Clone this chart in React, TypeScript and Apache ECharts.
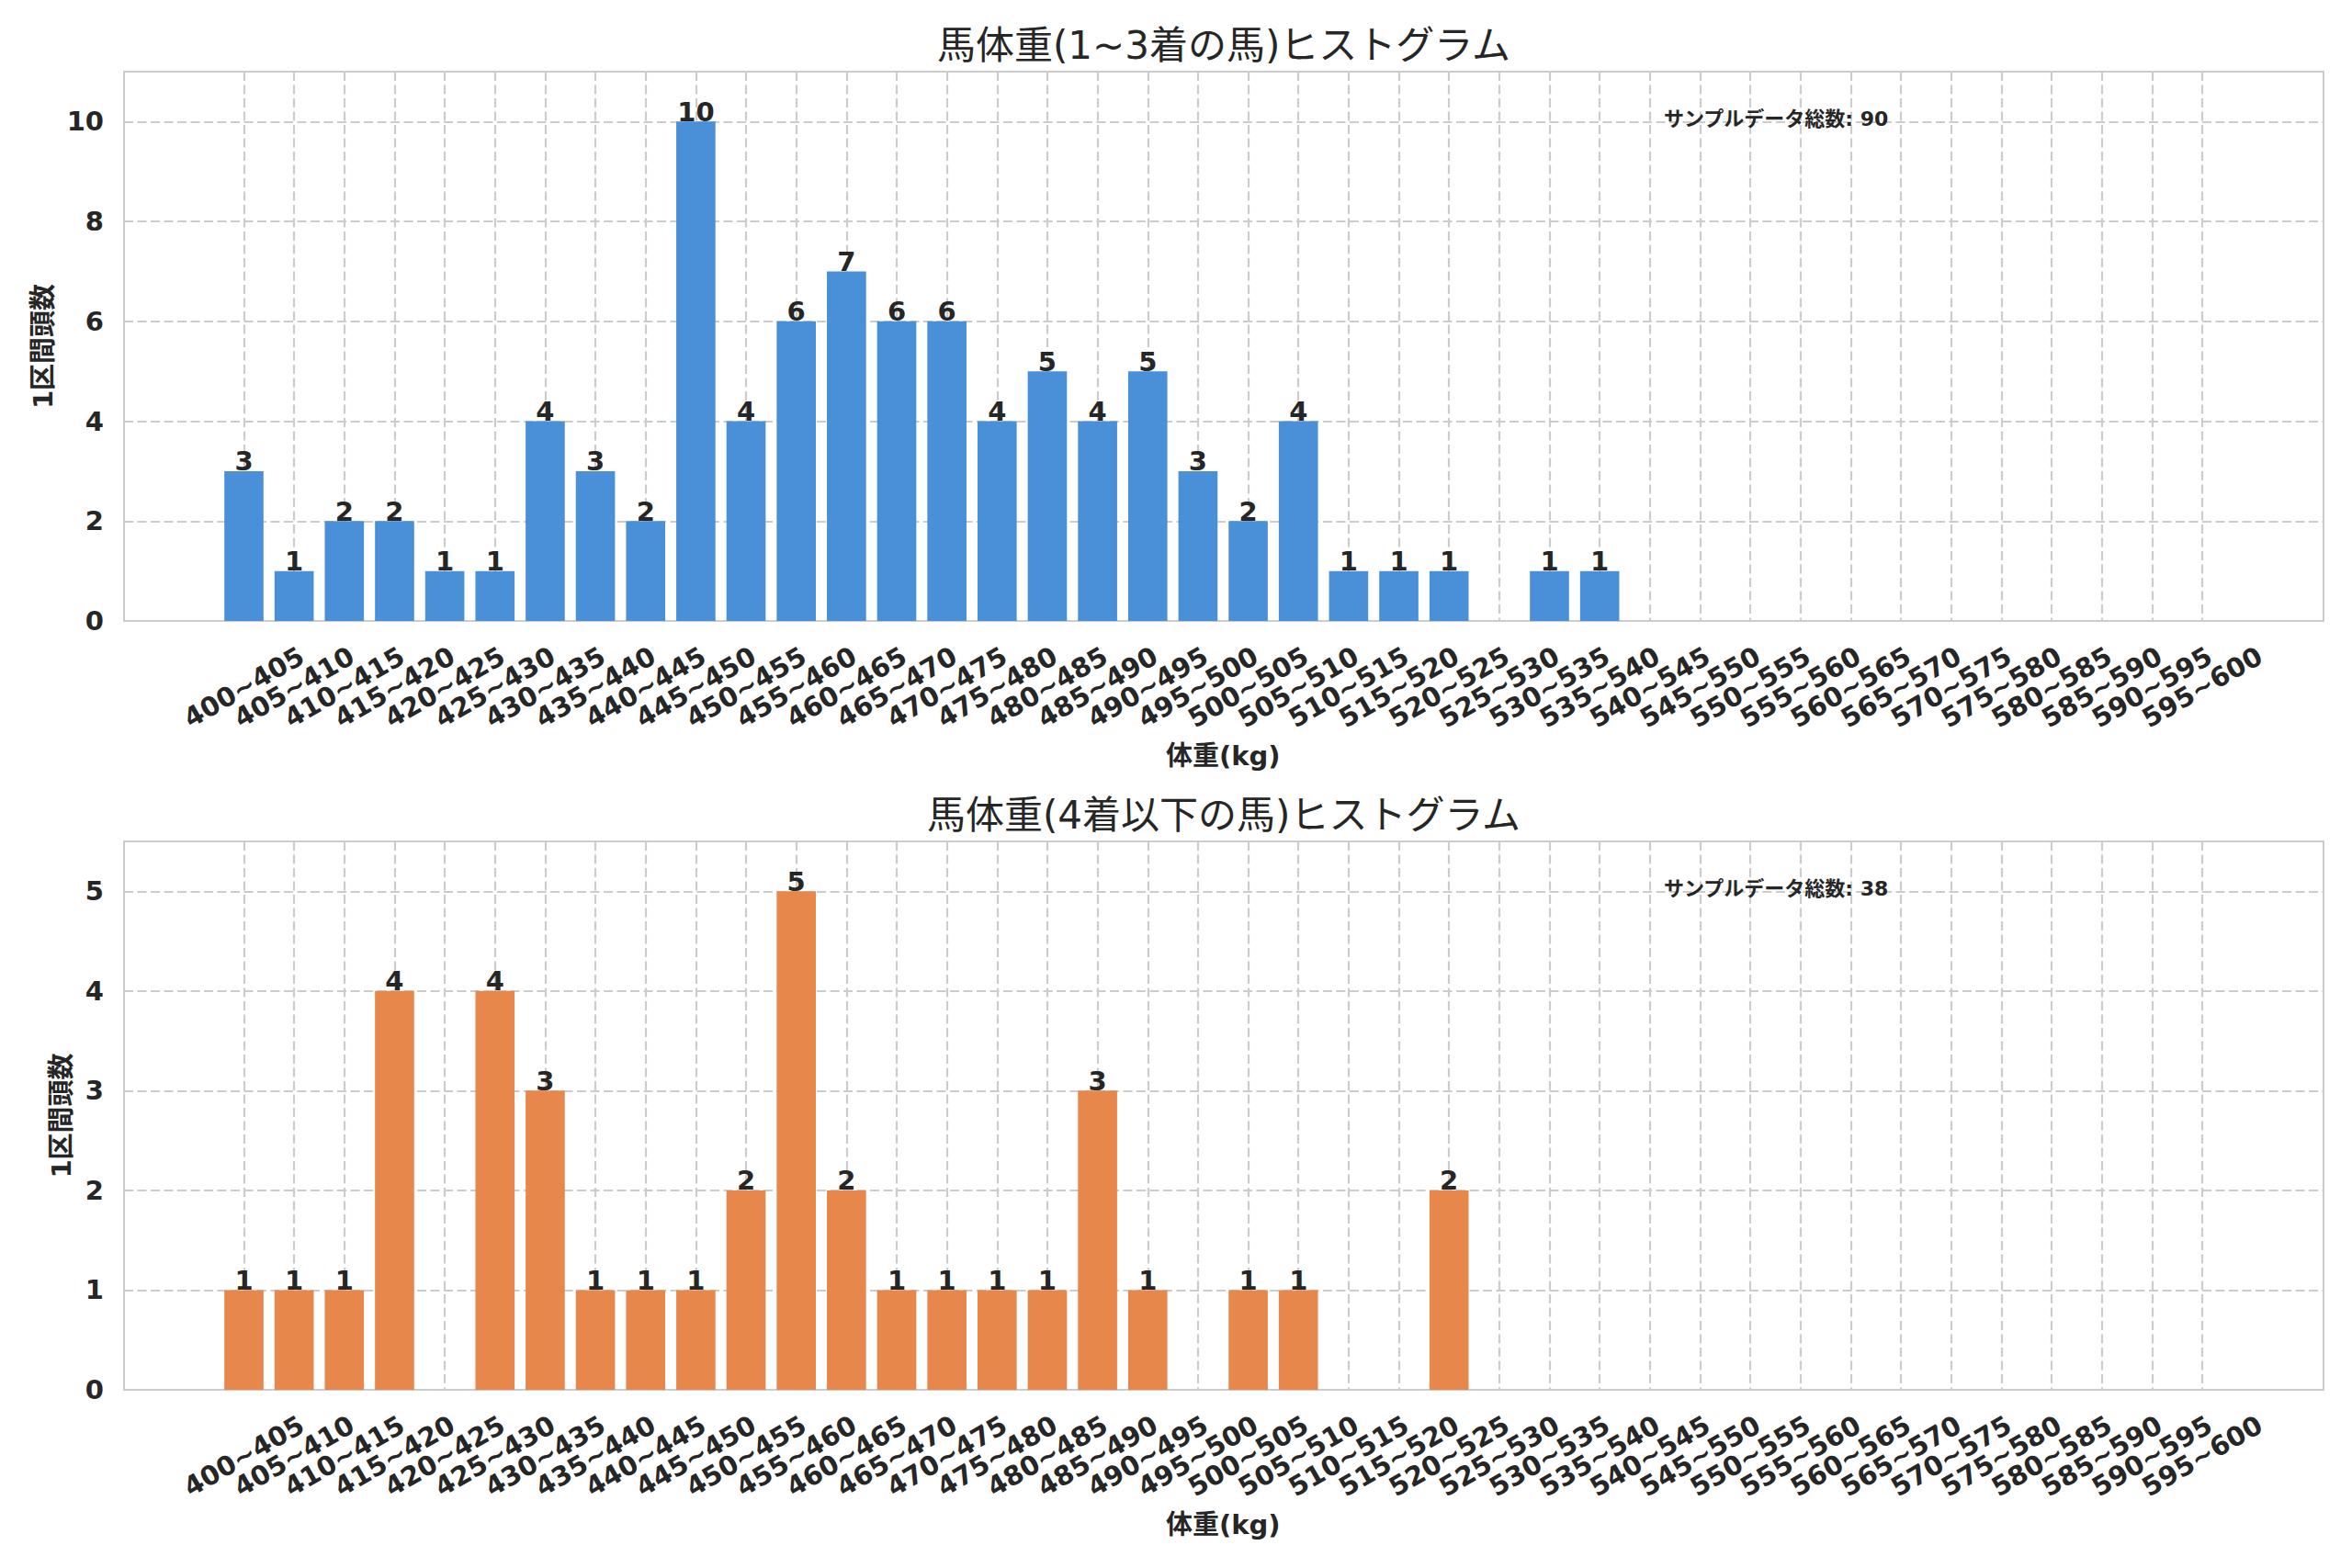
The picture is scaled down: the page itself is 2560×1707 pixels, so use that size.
import React, { useEffect, useRef } from "react";
import * as echarts from "echarts";

const categories = [
  "400~405", "405~410", "410~415", "415~420", "420~425", "425~430", "430~435", "435~440",
  "440~445", "445~450", "450~455", "455~460", "460~465", "465~470", "470~475", "475~480",
  "480~485", "485~490", "490~495", "495~500", "500~505", "505~510", "510~515", "515~520",
  "520~525", "525~530", "530~535", "535~540", "540~545", "545~550", "550~555", "555~560",
  "560~565", "565~570", "570~575", "575~580", "580~585", "585~590", "590~595", "595~600",
];

const topCounts = [
  3, 1, 2, 2, 1, 1, 4, 3, 2, 10, 4, 6, 7, 6, 6, 4, 5, 4, 5, 3, 2, 4, 1, 1, 1, 0, 1, 1,
  0, 0, 0, 0, 0, 0, 0, 0, 0, 0, 0, 0,
];

const lowerCounts = [
  1, 1, 1, 4, 0, 4, 3, 1, 1, 1, 2, 5, 2, 1, 1, 1, 1, 3, 1, 0, 1, 1, 0, 0, 2, 0, 0, 0,
  0, 0, 0, 0, 0, 0, 0, 0, 0, 0, 0, 0,
];

const topTitle = "馬体重(1~3着の馬)ヒストグラム";
const lowerTitle = "馬体重(4着以下の馬)ヒストグラム";
const xName = "体重(kg)";
const yName = "1区間頭数";
const totalLabel = "サンプルデータ総数";
const topTotal = 90;
const lowerTotal = 38;
const topYMax = 11;
const topYInterval = 2;
const lowerYMax = 5.5;
const lowerYInterval = 1;

const FONT = '"DejaVu Sans", "Noto Sans CJK JP", sans-serif';
const TEXT = "#262626";
const GRID = "#cccccc";
const BLUE = "#4a90d9";
const ORANGE = "#e8874c";

// frame geometry (px)
const FRAME_L = 135;
const FRAME_R = 2560 - 2529;
const BAR_L = 265.5;
const BAR_R = 2560 - 2397;
const TOP_T = 78;
const TOP_B = 1707 - 676;
const LOW_T = 916;
const LOW_B = 1707 - 1513;

function buildOption() {
  const dashed = { color: GRID, width: 2.2, type: [10, 4.5] as any };
  const panel = (idx: number, top: number, bottom: number) => [
    { left: FRAME_L, right: FRAME_R, top, bottom, show: true, borderColor: GRID, borderWidth: 2, backgroundColor: "transparent" },
    { left: BAR_L, right: BAR_R, top, bottom, show: false },
  ];
  const grids = [...panel(0, TOP_T, TOP_B), ...panel(1, LOW_T, LOW_B)];

  const catAxis = (gridIndex: number) => ({
    type: "category",
    gridIndex,
    data: categories,
    boundaryGap: false,
    axisLine: { show: false },
    axisTick: { show: false },
    axisLabel: {
      interval: 0,
      rotate: 30,
      align: "center",
      verticalAlign: "middle",
      margin: 72,
      fontFamily: FONT,
      fontWeight: "bold",
      fontSize: 29,
      color: TEXT,
    },
    splitLine: { show: true, lineStyle: dashed },
    name: xName,
    nameLocation: "middle",
    nameGap: 132,
    nameTextStyle: { fontFamily: FONT, fontWeight: "bold", fontSize: 29, color: TEXT },
  });
  const hiddenX = (gridIndex: number) => ({ type: "value", gridIndex, min: 0, max: 1, show: false });

  const valAxis = (gridIndex: number, max: number, interval: number, nameGap: number) => ({
    type: "value",
    gridIndex,
    min: 0,
    max,
    interval,
    axisLine: { show: false },
    axisTick: { show: false },
    axisLabel: {
      margin: 22,
      showMaxLabel: false,
      fontFamily: FONT,
      fontWeight: "bold",
      fontSize: 29,
      color: TEXT,
      formatter: (v: number) => (Math.abs(v / interval - Math.round(v / interval)) < 1e-6 ? String(v) : ""),
    },
    splitLine: { show: true, lineStyle: dashed },
    name: yName,
    nameLocation: "middle",
    nameRotate: 90,
    nameGap,
    nameTextStyle: { fontFamily: FONT, fontWeight: "bold", fontSize: 29, color: TEXT },
  });
  const hiddenY = (gridIndex: number, max: number) => ({ type: "value", gridIndex, min: 0, max, show: false, splitLine: { show: false } });

  const barSeries = (xi: number, yi: number, data: number[], color: string) => ({
    type: "bar",
    xAxisIndex: xi,
    yAxisIndex: yi,
    data,
    barWidth: "78%",
    clip: false,
    itemStyle: { color },
    label: {
      show: true,
      position: "top",
      distance: -4,
      fontFamily: FONT,
      fontWeight: "bold",
      fontSize: 29,
      color: TEXT,
      formatter: (p: any) => (p.value > 0 ? String(p.value) : ""),
    },
    z: 3,
  });

  const textEl = (text: string, x: number, y: number, size: number, weight: string, align: string) => ({
    type: "text",
    x,
    y,
    z: 10,
    style: {
      text,
      font: `${weight} ${size}px ${FONT}`,
      fill: TEXT,
      textAlign: align,
      textVerticalAlign: "middle",
      align,
      verticalAlign: "middle",
    },
  });

  return {
    animation: false,
    backgroundColor: "#ffffff",
    grid: grids,
    xAxis: [hiddenX(0), catAxis(1), hiddenX(2), catAxis(3)],
    yAxis: [
      valAxis(0, topYMax, topYInterval, 71),
      hiddenY(1, topYMax),
      valAxis(2, lowerYMax, lowerYInterval, 52),
      hiddenY(3, lowerYMax),
    ],
    series: [barSeries(1, 1, topCounts, BLUE), barSeries(3, 3, lowerCounts, ORANGE)],
    graphic: [
      textEl(topTitle, 1332, 49, 42, "normal", "center"),
      textEl(lowerTitle, 1332, 887, 42, "normal", "center"),
      textEl(`${totalLabel}: ${topTotal}`, 1811, 129, 22, "bold", "left"),
      textEl(`${totalLabel}: ${lowerTotal}`, 1811, 967, 22, "bold", "left"),
    ],
  };
}

export default function App() {
  const ref = useRef<HTMLDivElement>(null);
  useEffect(() => {
    if (!ref.current) return;
    const chart = echarts.init(ref.current, undefined, { renderer: "svg" });
    chart.setOption(buildOption() as any);
    return () => chart.dispose();
  }, []);
  return (
    <div
      ref={ref}
      style={{ position: "absolute", left: 0, top: 0, width: 2560, height: 1707, background: "#ffffff" }}
    />
  );
}
